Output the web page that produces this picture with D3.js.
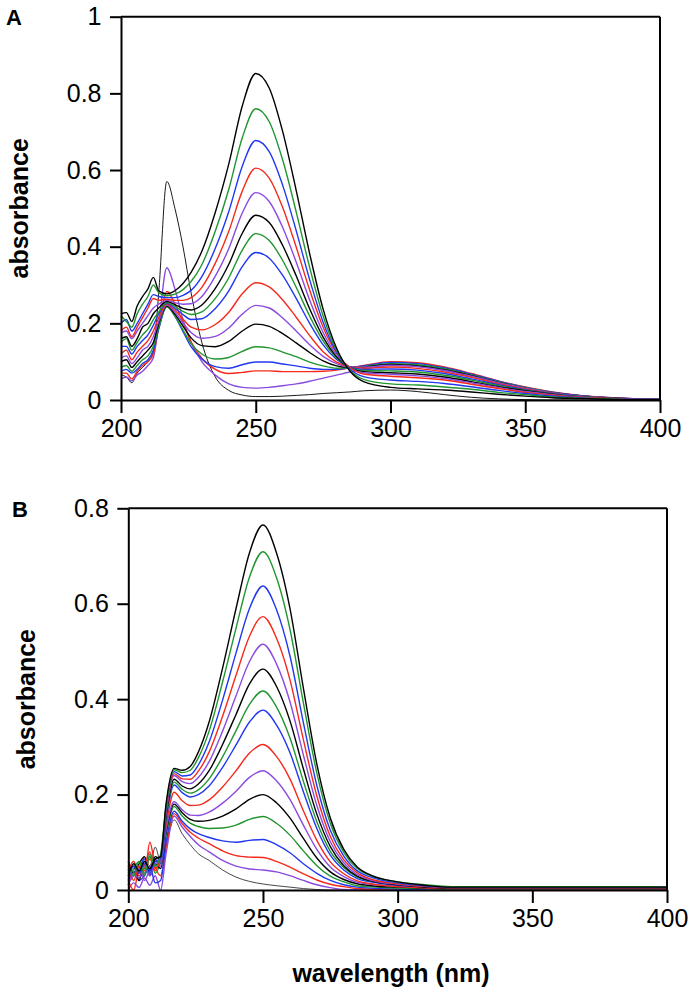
<!DOCTYPE html>
<html>
<head>
<meta charset="utf-8">
<script src="https://cdnjs.cloudflare.com/ajax/libs/d3/7.8.5/d3.min.js"></script>
<style>
  body { margin: 0; background: #fff; }
  svg { display: block; font-family: "Liberation Sans", Arial, Helvetica, sans-serif; }
</style>
</head>
<body>
<div id="chart"></div>
<script>
// wavelength grid (nm) shared by every spectrum
const wavelengths = [200, 202, 204, 206, 208, 210, 212, 214, 217, 220, 223, 226, 230, 235, 240, 245, 250,
  255, 260, 265, 270, 275, 280, 285, 290, 300, 310, 320, 330, 340, 350, 360, 370, 380, 390, 400];

const lineColors = ["#000000", "#21952f", "#2038f0", "#f52a1c", "#8a4be0"];

const xTicks = [200, 250, 300, 350, 400];
const yTicksA = [0, 0.2, 0.4, 0.6, 0.8, 1];
const yTickLabelsA = ["0", "0.2", "0.4", "0.6", "0.8", "1"];
const yTicksB = [0, 0.2, 0.4, 0.6, 0.8];
const yTickLabelsB = ["0", "0.2", "0.4", "0.6", "0.8"];

// panel A absorbance, one row per spectrum (largest 250 nm band first)
const spectraA = [
  [0.225,0.228,0.205,0.245,0.27,0.29,0.32,0.285, 0.277,0.285,0.304,0.333,0.388,0.490,0.616,0.767,0.852,0.814,0.700,0.547,0.382,0.237,0.135,0.075,0.048,0.033,0.029,0.026,0.021,0.015,0.010,0.006,0.004,0.002,0.001,0.001],
  [0.22,0.205,0.19,0.225,0.25,0.27,0.30,0.28, 0.272,0.276,0.288,0.309,0.353,0.441,0.550,0.684,0.760,0.726,0.626,0.491,0.346,0.219,0.129,0.077,0.054,0.042,0.039,0.034,0.028,0.020,0.014,0.008,0.005,0.003,0.001,0.001],
  [0.20,0.21,0.18,0.20,0.225,0.25,0.275,0.27, 0.267,0.267,0.273,0.286,0.322,0.396,0.492,0.610,0.677,0.648,0.560,0.442,0.314,0.203,0.125,0.080,0.061,0.052,0.0485,0.043,0.0345,0.025,0.017,0.0105,0.006,0.003,0.002,0.001],
  [0.18,0.19,0.165,0.19,0.215,0.24,0.265,0.26, 0.263,0.260,0.260,0.267,0.294,0.357,0.440,0.545,0.605,0.579,0.502,0.399,0.287,0.190,0.122,0.084,0.068,0.062,0.058,0.052,0.041,0.030,0.020,0.013,0.007,0.004,0.002,0.001],
  [0.175,0.18,0.16,0.18,0.20,0.22,0.24,0.25, 0.26,0.254,0.250,0.251,0.270,0.323,0.395,0.488,0.541,0.518,0.450,0.360,0.261,0.176,0.117,0.084,0.071,0.067,0.063,0.056,0.045,0.0325,0.022,0.014,0.008,0.004,0.002,0.001],
  [0.16,0.165,0.14,0.16,0.19,0.20,0.225,0.24, 0.257,0.249,0.239,0.235,0.248,0.291,0.354,0.435,0.482,0.463,0.403,0.324,0.238,0.164,0.113,0.084,0.074,0.071,0.068,0.060,0.048,0.035,0.024,0.015,0.008,0.005,0.002,0.001],
  [0.15,0.16,0.13,0.15,0.17,0.185,0.21,0.23, 0.254,0.244,0.231,0.223,0.230,0.265,0.319,0.391,0.434,0.416,0.364,0.294,0.219,0.154,0.109,0.085,0.077,0.076,0.073,0.0645,0.052,0.0375,0.0255,0.016,0.009,0.005,0.003,0.0015],
  [0.14,0.14,0.12,0.14,0.155,0.17,0.195,0.225, 0.252,0.239,0.223,0.210,0.212,0.239,0.285,0.348,0.385,0.370,0.325,0.265,0.200,0.144,0.106,0.086,0.080,0.081,0.078,0.069,0.055,0.040,0.027,0.017,0.010,0.005,0.003,0.002],
  [0.12,0.13,0.105,0.125,0.14,0.155,0.18,0.215, 0.25,0.234,0.211,0.190,0.183,0.197,0.229,0.277,0.306,0.295,0.261,0.216,0.168,0.126,0.099,0.086,0.083,0.086,0.0825,0.073,0.059,0.0425,0.029,0.018,0.010,0.0055,0.003,0.002],
  [0.11,0.115,0.095,0.11,0.13,0.14,0.165,0.205, 0.248,0.229,0.201,0.176,0.161,0.166,0.188,0.224,0.247,0.240,0.214,0.180,0.144,0.114,0.095,0.086,0.086,0.091,0.087,0.077,0.062,0.045,0.031,0.019,0.011,0.006,0.003,0.002],
  [0.10,0.105,0.085,0.10,0.115,0.13,0.15,0.20, 0.245,0.224,0.193,0.162,0.142,0.139,0.153,0.180,0.198,0.192,0.173,0.149,0.124,0.102,0.089,0.085,0.086,0.093,0.089,0.079,0.0635,0.046,0.031,0.019,0.011,0.006,0.003,0.002],
  [0.085,0.09,0.075,0.09,0.105,0.115,0.14,0.19, 0.243,0.219,0.183,0.147,0.120,0.107,0.111,0.127,0.139,0.136,0.125,0.113,0.099,0.089,0.083,0.084,0.087,0.095,0.092,0.082,0.0655,0.0475,0.032,0.020,0.011,0.006,0.003,0.002],
  [0.075,0.08,0.07,0.08,0.095,0.105,0.13,0.185, 0.245,0.219,0.179,0.139,0.107,0.087,0.083,0.092,0.099,0.099,0.094,0.089,0.083,0.080,0.080,0.084,0.089,0.098,0.095,0.084,0.0675,0.049,0.033,0.0205,0.012,0.0065,0.0035,0.002],
  [0.07,0.07,0.055,0.075,0.09,0.10,0.12,0.19, 0.283,0.251,0.202,0.152,0.109,0.080,0.069,0.072,0.076,0.076,0.074,0.074,0.074,0.075,0.078,0.084,0.090,0.100,0.097,0.086,0.069,0.050,0.034,0.021,0.012,0.0065,0.0035,0.002],
  [0.055,0.06,0.05,0.065,0.075,0.09,0.11,0.20, 0.345,0.29,0.21,0.15,0.10,0.065,0.042,0.033,0.031,0.033,0.037,0.042,0.049,0.057,0.065,0.073,0.08,0.09,0.087,0.077,0.062,0.045,0.031,0.019,0.011,0.006,0.003,0.002],
  [0.065,0.06,0.045,0.07,0.085,0.10,0.125,0.28, 0.57,0.50,0.40,0.28,0.15,0.06,0.025,0.013,0.009,0.009,0.010,0.012,0.014,0.017,0.019,0.021,0.024,0.026,0.022,0.014,0.007,0.003,0.001,0,0,0,0,0]
];

// panel B absorbance, same ordering
const spectraB = [
  [0.03,0.055,0.04,0.06,0.045,0.065,0.07,0.18, 0.255,0.251,0.259,0.289,0.352,0.465,0.590,0.707,0.765,0.707,0.591,0.423,0.264,0.151,0.085,0.048,0.031,0.017,0.010,0.006,0.006,0.006,0.006,0.006,0.006,0.006,0.006,0.006],
  [0.05,0.03,0.06,0.035,0.07,0.05,0.075,0.175, 0.252,0.246,0.251,0.277,0.333,0.436,0.549,0.656,0.709,0.655,0.547,0.392,0.245,0.140,0.079,0.045,0.030,0.017,0.011,0.007,0.007,0.007,0.007,0.007,0.007,0.007,0.007,0.007],
  [0.02,0.05,0.035,0.055,0.04,0.06,0.065,0.17, 0.248,0.239,0.241,0.262,0.310,0.398,0.497,0.590,0.637,0.588,0.491,0.351,0.219,0.125,0.071,0.040,0.027,0.015,0.009,0.006,0.006,0.006,0.006,0.006,0.006,0.006,0.006,0.006],
  [0.045,0.02,0.05,0.04,0.065,0.045,0.07,0.165, 0.244,0.233,0.232,0.249,0.289,0.364,0.450,0.532,0.573,0.528,0.441,0.315,0.197,0.112,0.063,0.036,0.023,0.013,0.008,0.005,0.005,0.005,0.005,0.005,0.005,0.005,0.005,0.005],
  [0.01,0.035,0.025,0.05,0.03,0.055,0.06,0.16, 0.240,0.227,0.223,0.236,0.269,0.333,0.407,0.479,0.515,0.474,0.395,0.283,0.177,0.101,0.057,0.032,0.021,0.012,0.0075,0.005,0.005,0.005,0.005,0.005,0.005,0.005,0.005,0.005],
  [0.035,0.05,0.02,0.06,0.04,0.07,0.065,0.155, 0.232,0.218,0.212,0.222,0.250,0.305,0.368,0.432,0.463,0.427,0.355,0.254,0.159,0.091,0.051,0.029,0.019,0.011,0.006,0.004,0.004,0.004,0.004,0.004,0.004,0.004,0.004,0.004],
  [0.025,0.045,0.06,0.03,0.075,0.05,0.06,0.15, 0.226,0.211,0.203,0.210,0.233,0.279,0.334,0.389,0.417,0.384,0.319,0.228,0.143,0.081,0.047,0.027,0.019,0.012,0.008,0.006,0.006,0.006,0.006,0.006,0.006,0.006,0.006,0.006],
  [0.05,0.03,0.045,0.065,0.035,0.06,0.055,0.145, 0.220,0.204,0.195,0.200,0.218,0.257,0.304,0.352,0.377,0.346,0.288,0.206,0.129,0.073,0.042,0.024,0.017,0.010,0.007,0.005,0.005,0.005,0.005,0.005,0.005,0.005,0.005,0.005],
  [0.04,0.06,0.03,0.05,0.08,0.04,0.07,0.135, 0.205,0.187,0.177,0.178,0.189,0.216,0.250,0.287,0.305,0.280,0.233,0.166,0.104,0.059,0.034,0.019,0.013,0.007,0.0045,0.003,0.003,0.003,0.003,0.003,0.003,0.003,0.003,0.003],
  [0.015,0.03,0.05,0.02,0.045,0.065,0.05,0.125, 0.185,0.168,0.157,0.156,0.163,0.182,0.207,0.236,0.250,0.229,0.190,0.136,0.085,0.048,0.028,0.016,0.012,0.0075,0.005,0.004,0.004,0.004,0.004,0.004,0.004,0.004,0.004,0.004],
  [0.06,0.035,0.055,0.07,0.03,0.055,0.045,0.12, 0.180,0.162,0.148,0.144,0.146,0.155,0.170,0.190,0.200,0.183,0.151,0.108,0.067,0.038,0.022,0.013,0.009,0.006,0.004,0.003,0.003,0.003,0.003,0.003,0.003,0.003,0.003,0.003],
  [0.03,0.05,0.025,0.045,0.07,0.035,0.06,0.115, 0.175,0.155,0.140,0.133,0.129,0.130,0.136,0.148,0.154,0.140,0.115,0.082,0.051,0.029,0.017,0.009,0.0065,0.004,0.003,0.002,0.002,0.002,0.002,0.002,0.002,0.002,0.002,0.002],
  [0.01,0.04,0.02,0.03,0.05,0.015,0.02,0.10, 0.165,0.144,0.128,0.118,0.110,0.103,0.100,0.104,0.106,0.095,0.078,0.055,0.035,0.020,0.011,0.006,0.004,0.002,0.001,0.001,0.001,0.001,0.001,0.001,0.001,0.001,0.001,0.001],
  [0.02,0.0,0.04,0.03,0.10,0.05,0.03,0.09, 0.160,0.139,0.121,0.109,0.097,0.082,0.072,0.069,0.068,0.060,0.048,0.034,0.021,0.012,0.007,0.003,0.002,0.001,0,0,0,0,0,0,0,0,0,0],
  [0.0,0.015,0.005,0.025,0.01,0.03,0.0,0.075, 0.155,0.132,0.112,0.095,0.080,0.062,0.050,0.044,0.042,0.038,0.030,0.020,0.011,0.005,0.001,0,0,0,0,0,0,0,0,0,0,0,0,0],
  [0.04,0.06,0.035,0.07,0.05,0.09,0.06,0.095, 0.147,0.118,0.095,0.076,0.062,0.042,0.027,0.018,0.0126,0.009,0.006,0.003,0.001,0,0,0,0,0,0,0,0,0,0,0,0,0,0,0]
];

const svg = d3.select("#chart")
    .append("svg")
    .attr("width", 694)
    .attr("height", 993);

function drawPanel(p) {
  let x = d3.scaleLinear().domain([200, 400]).range([p.left, p.right]);
  let y = d3.scaleLinear().domain([0, p.yMax]).range([p.bottom, p.top]);

  let g = svg.append("g");

  let line = d3.line()
      .x(d => x(d[0]))
      .y(d => y(d[1]))
      .curve(d3.curveMonotoneX);

  // last (thin) spectrum first so the big ones sit on top
  for (let k = p.spectra.length - 1; k >= 0; k--) {
    let last = k === p.spectra.length - 1;
    g.append("path")
        .datum(d3.zip(wavelengths, p.spectra[k]))
        .attr("fill", "none")
        .attr("stroke", last ? p.thinColor : lineColors[k % lineColors.length])
        .attr("stroke-width", last ? 0.9 : 1.4)
        .attr("d", line);
  }

  // frame: top and right
  g.append("line")
      .attr("x1", p.left).attr("x2", p.right)
      .attr("y1", p.top).attr("y2", p.top)
      .attr("stroke", "#000").attr("stroke-width", 2);
  g.append("line")
      .attr("x1", p.right).attr("x2", p.right)
      .attr("y1", p.top).attr("y2", p.bottom)
      .attr("stroke", "#000").attr("stroke-width", 2);

  let xAxis = g.append("g")
      .attr("transform", "translate(0," + p.bottom + ")")
      .call(d3.axisBottom(x).tickValues(xTicks).tickSize(13).tickSizeOuter(0).tickPadding(6));

  let yAxis = g.append("g")
      .attr("transform", "translate(" + p.left + ",0)")
      .call(d3.axisLeft(y).tickValues(p.yTicks)
        .tickFormat((d, i) => p.yLabels[i])
        .tickSize(11).tickSizeOuter(0).tickPadding(8.5));

  [xAxis, yAxis].forEach(a => {
    a.attr("font-family", null).attr("font-size", null);
    a.select(".domain").attr("stroke-width", 2);
    a.selectAll(".tick line").attr("stroke-width", 2);
    a.selectAll(".tick text")
        .attr("fill", "#000")
        .style("font-size", "25px");
  });

  g.append("text")
      .attr("transform", "translate(" + p.yLabelX + "," + ((p.top + p.bottom) / 2) + ") rotate(-90)")
      .attr("text-anchor", "middle")
      .style("font-size", "25px")
      .style("font-weight", "bold")
      .text("absorbance");

  g.append("text")
      .attr("x", p.letterX)
      .attr("y", p.letterY)
      .style("font-size", "22px")
      .style("font-weight", "bold")
      .text(p.letter);
}

drawPanel({
  letter: "A", letterX: 6, letterY: 25,
  left: 121, right: 660, top: 16.7, bottom: 400,
  yMax: 1, yTicks: yTicksA, yLabels: yTickLabelsA,
  spectra: spectraA, thinColor: "#000", yLabelX: 28
});

drawPanel({
  letter: "B", letterX: 12, letterY: 517,
  left: 128.3, right: 667, top: 508.3, bottom: 890,
  yMax: 0.8, yTicks: yTicksB, yLabels: yTickLabelsB,
  spectra: spectraB, thinColor: "#333", yLabelX: 35
});

svg.append("text")
    .attr("x", 391)
    .attr("y", 982)
    .attr("text-anchor", "middle")
    .style("font-size", "25px")
    .style("font-weight", "bold")
    .text("wavelength (nm)");
</script>
</body>
</html>
